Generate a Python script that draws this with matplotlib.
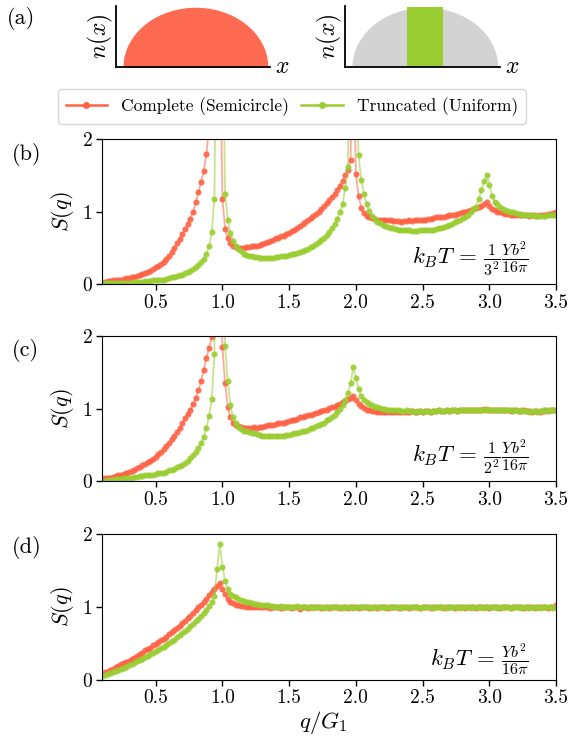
import numpy as np
import matplotlib
matplotlib.use("Agg")
import matplotlib.pyplot as plt
from matplotlib.lines import Line2D

plt.rcParams["font.family"] = "serif"
plt.rcParams["font.serif"] = ["cmr10", "DejaVu Serif"]
plt.rcParams["mathtext.fontset"] = "cm"
plt.rcParams["axes.formatter.use_mathtext"] = True

RED = "#ff6347"
GREEN = "#9acd32"

# sampling grid q/G1 (0.10 ... 3.50, step 0.02)
q = np.round(np.linspace(0.10, 3.50, 171), 2)

# (b) kT = (1/3^2) Yb^2/16pi
red_b = [
    0.03, 0.03, 0.04, 0.04, 0.05, 0.05, 0.06, 0.06, 0.07, 0.08,
    0.08, 0.09, 0.10, 0.11, 0.12, 0.14, 0.15, 0.17, 0.18, 0.20,
    0.23, 0.25, 0.28, 0.31, 0.35, 0.39, 0.44, 0.50, 0.56, 0.62,
    0.69, 0.76, 0.83, 0.90, 1.00, 1.13, 1.27, 1.41, 1.56, 1.79,
    2.20, 2.90, 4.20, 5.50, 3.50, 1.18, 0.76, 0.63, 0.57, 0.53,
    0.51, 0.50, 0.50, 0.50, 0.51, 0.51, 0.52, 0.52, 0.53, 0.54,
    0.55, 0.56, 0.58, 0.60, 0.61, 0.63, 0.64, 0.66, 0.67, 0.69,
    0.71, 0.73, 0.75, 0.77, 0.80, 0.83, 0.86, 0.89, 0.91, 0.94,
    0.97, 1.00, 1.04, 1.08, 1.12, 1.16, 1.20, 1.25, 1.30, 1.36,
    1.43, 1.50, 1.58, 1.72, 3.60, 1.52, 1.22, 1.05, 0.98, 0.94,
    0.92, 0.91, 0.90, 0.89, 0.89, 0.88, 0.89, 0.88, 0.88, 0.87,
    0.87, 0.87, 0.86, 0.87, 0.87, 0.88, 0.87, 0.88, 0.88, 0.89,
    0.89, 0.89, 0.90, 0.90, 0.91, 0.92, 0.92, 0.93, 0.93, 0.94,
    0.95, 0.95, 0.96, 0.97, 0.98, 0.99, 1.00, 1.01, 1.02, 1.03,
    1.05, 1.06, 1.08, 1.11, 1.13, 1.08, 1.04, 1.02, 1.00, 0.99,
    0.98, 0.97, 0.97, 0.96, 0.96, 0.95, 0.96, 0.95, 0.95, 0.95,
    0.94, 0.95, 0.95, 0.94, 0.95, 0.96, 0.96, 0.97, 0.97, 0.98,
    0.99,
]
green_b = [
    0.01, 0.01, 0.01, 0.01, 0.01, 0.01, 0.02, 0.02, 0.02, 0.02,
    0.02, 0.02, 0.03, 0.03, 0.03, 0.03, 0.04, 0.04, 0.04, 0.05,
    0.05, 0.05, 0.06, 0.06, 0.07, 0.08, 0.09, 0.10, 0.11, 0.12,
    0.13, 0.15, 0.16, 0.18, 0.20, 0.23, 0.26, 0.30, 0.35, 0.42,
    0.52, 0.72, 1.18, 5.00, 8.00, 4.00, 1.25, 0.88, 0.70, 0.60,
    0.53, 0.48, 0.45, 0.42, 0.40, 0.39, 0.38, 0.37, 0.37, 0.36,
    0.36, 0.36, 0.36, 0.36, 0.36, 0.37, 0.37, 0.38, 0.38, 0.39,
    0.40, 0.41, 0.42, 0.43, 0.44, 0.46, 0.47, 0.49, 0.51, 0.53,
    0.55, 0.58, 0.61, 0.64, 0.68, 0.72, 0.77, 0.83, 0.90, 0.99,
    1.10, 1.33, 1.62, 4.00, 6.50, 3.00, 1.78, 1.44, 1.25, 1.10,
    1.01, 0.94, 0.90, 0.86, 0.84, 0.82, 0.80, 0.79, 0.78, 0.77,
    0.76, 0.75, 0.75, 0.74, 0.74, 0.74, 0.73, 0.73, 0.73, 0.74,
    0.74, 0.74, 0.74, 0.75, 0.75, 0.76, 0.77, 0.78, 0.79, 0.80,
    0.82, 0.83, 0.85, 0.87, 0.89, 0.91, 0.93, 0.96, 0.99, 1.03,
    1.07, 1.17, 1.30, 1.42, 1.51, 1.37, 1.22, 1.14, 1.10, 1.06,
    1.04, 1.02, 1.01, 1.00, 0.99, 0.98, 0.97, 0.97, 0.96, 0.96,
    0.95, 0.95, 0.94, 0.94, 0.94, 0.94, 0.94, 0.95, 0.95, 0.96,
    0.96,
]

# (c) kT = (1/2^2) Yb^2/16pi
red_c = [
    0.04, 0.04, 0.05, 0.05, 0.06, 0.07, 0.08, 0.09, 0.10, 0.11,
    0.13, 0.14, 0.16, 0.18, 0.20, 0.22, 0.24, 0.26, 0.28, 0.31,
    0.34, 0.37, 0.40, 0.44, 0.48, 0.53, 0.58, 0.63, 0.68, 0.74,
    0.80, 0.87, 0.93, 0.98, 1.06, 1.15, 1.26, 1.38, 1.54, 1.70,
    1.84, 1.99, 4.00, 6.00, 3.50, 1.85, 1.35, 1.02, 0.88, 0.80,
    0.77, 0.76, 0.75, 0.74, 0.74, 0.74, 0.74, 0.75, 0.74, 0.75,
    0.75, 0.76, 0.77, 0.77, 0.78, 0.79, 0.80, 0.81, 0.81, 0.82,
    0.83, 0.84, 0.85, 0.86, 0.88, 0.89, 0.90, 0.91, 0.92, 0.93,
    0.94, 0.95, 0.97, 0.98, 0.99, 1.01, 1.02, 1.03, 1.05, 1.07,
    1.09, 1.11, 1.13, 1.15, 1.17, 1.12, 1.07, 1.04, 1.01, 0.99,
    0.98, 0.97, 0.97, 0.96, 0.96, 0.95, 0.96, 0.95, 0.96, 0.95,
    0.96, 0.95, 0.96, 0.96, 0.95, 0.96, 0.97, 0.96, 0.96, 0.97,
    0.96, 0.97, 0.97, 0.96, 0.97, 0.97, 0.98, 0.97, 0.97, 0.98,
    0.97, 0.98, 0.98, 0.97, 0.98, 0.98, 0.99, 0.98, 0.98, 0.99,
    0.99, 0.98, 0.99, 1.00, 0.99, 0.99, 0.98, 0.99, 0.99, 0.98,
    0.99, 0.98, 0.98, 0.97, 0.98, 0.98, 0.97, 0.97, 0.98, 0.97,
    0.97, 0.96, 0.97, 0.97, 0.96, 0.97, 0.98, 0.97, 0.98, 0.98,
    0.99,
]
green_c = [
    0.01, 0.01, 0.02, 0.02, 0.02, 0.03, 0.03, 0.03, 0.04, 0.04,
    0.05, 0.05, 0.06, 0.06, 0.07, 0.07, 0.08, 0.08, 0.09, 0.09,
    0.10, 0.11, 0.12, 0.12, 0.13, 0.15, 0.16, 0.17, 0.19, 0.21,
    0.23, 0.25, 0.28, 0.32, 0.36, 0.41, 0.46, 0.53, 0.61, 0.74,
    0.90, 1.14, 1.75, 5.00, 8.00, 5.00, 1.86, 1.38, 1.05, 0.88,
    0.80, 0.75, 0.72, 0.70, 0.69, 0.68, 0.67, 0.66, 0.65, 0.64,
    0.63, 0.62, 0.62, 0.62, 0.62, 0.62, 0.63, 0.63, 0.63, 0.64,
    0.64, 0.65, 0.66, 0.67, 0.68, 0.69, 0.70, 0.71, 0.73, 0.74,
    0.76, 0.77, 0.79, 0.81, 0.84, 0.86, 0.89, 0.92, 0.96, 1.00,
    1.05, 1.12, 1.22, 1.35, 1.57, 1.42, 1.27, 1.17, 1.12, 1.09,
    1.07, 1.05, 1.03, 1.02, 1.01, 1.00, 1.00, 0.99, 0.99, 0.98,
    0.98, 0.98, 0.97, 0.97, 0.98, 0.97, 0.97, 0.96, 0.97, 0.97,
    0.96, 0.97, 0.97, 0.96, 0.97, 0.97, 0.98, 0.97, 0.97, 0.98,
    0.97, 0.98, 0.98, 0.97, 0.98, 0.98, 0.98, 0.99, 0.98, 0.98,
    0.99, 0.99, 0.98, 0.99, 1.00, 0.99, 0.99, 0.98, 0.99, 0.98,
    0.98, 0.98, 0.99, 0.98, 0.97, 0.98, 0.97, 0.98, 0.97, 0.97,
    0.96, 0.97, 0.97, 0.96, 0.97, 0.98, 0.97, 0.98, 0.98, 0.99,
    0.99,
]

# (d) kT = Yb^2/16pi
red_d = [
    0.08, 0.10, 0.11, 0.13, 0.15, 0.17, 0.19, 0.21, 0.23, 0.24,
    0.26, 0.28, 0.30, 0.32, 0.35, 0.37, 0.40, 0.42, 0.44, 0.47,
    0.49, 0.52, 0.54, 0.56, 0.59, 0.62, 0.65, 0.68, 0.71, 0.74,
    0.77, 0.80, 0.84, 0.87, 0.91, 0.95, 0.99, 1.03, 1.07, 1.11,
    1.16, 1.20, 1.24, 1.28, 1.32, 1.24, 1.17, 1.11, 1.07, 1.05,
    1.03, 1.02, 1.01, 1.01, 1.00, 1.00, 0.99, 1.00, 0.99, 1.00,
    0.99, 1.00, 0.99, 0.98, 1.00, 0.99, 1.00, 0.98, 0.99, 1.00,
    0.99, 0.98, 1.00, 0.99, 0.97, 0.99, 1.00, 0.98, 0.99, 0.99,
    1.00, 0.99, 0.98, 1.00, 0.99, 0.98, 0.99, 1.00, 0.99, 0.98,
    0.99, 1.00, 0.98, 0.99, 1.00, 0.99, 0.98, 0.99, 1.00, 0.99,
    0.98, 0.99, 1.00, 0.98, 0.99, 0.99, 1.00, 0.98, 0.99, 1.00,
    0.99, 0.98, 0.99, 1.00, 0.99, 0.98, 0.99, 0.99, 1.00, 0.98,
    0.99, 1.00, 0.99, 0.98, 0.99, 1.00, 0.99, 0.99, 0.98, 0.99,
    1.00, 0.99, 0.98, 0.99, 0.99, 1.00, 0.98, 0.99, 1.00, 0.99,
    0.98, 0.99, 1.00, 0.99, 0.99, 0.98, 0.99, 1.00, 0.99, 0.98,
    0.99, 0.99, 1.00, 0.98, 0.99, 0.99, 1.00, 0.99, 0.98, 0.99,
    1.00, 0.99, 0.98, 0.99, 1.00, 0.99, 0.99, 0.98, 0.99, 1.00,
    1.02,
]
green_d = [
    0.05, 0.06, 0.08, 0.09, 0.10, 0.12, 0.13, 0.15, 0.16, 0.18,
    0.20, 0.21, 0.23, 0.25, 0.27, 0.29, 0.31, 0.33, 0.35, 0.37,
    0.39, 0.41, 0.43, 0.45, 0.47, 0.50, 0.53, 0.55, 0.58, 0.61,
    0.64, 0.67, 0.70, 0.73, 0.76, 0.80, 0.83, 0.87, 0.91, 0.95,
    1.01, 1.07, 1.15, 1.52, 1.86, 1.55, 1.35, 1.24, 1.18, 1.15,
    1.13, 1.11, 1.09, 1.08, 1.07, 1.06, 1.05, 1.04, 1.04, 1.03,
    1.03, 1.02, 1.02, 1.01, 1.01, 1.00, 1.00, 1.01, 1.00, 0.99,
    1.00, 0.99, 1.00, 1.01, 0.99, 1.00, 0.99, 1.00, 0.99, 0.98,
    0.99, 1.00, 0.99, 0.98, 0.99, 1.00, 0.99, 0.99, 1.00, 0.99,
    0.98, 0.99, 1.00, 0.99, 0.98, 0.99, 1.00, 0.99, 0.99, 1.00,
    0.99, 0.98, 0.99, 1.00, 0.99, 0.99, 0.98, 1.00, 0.99, 0.99,
    1.00, 0.99, 0.98, 0.99, 1.00, 0.99, 0.99, 1.00, 0.99, 0.98,
    0.99, 1.00, 0.99, 0.99, 0.98, 0.99, 1.00, 0.99, 0.99, 0.98,
    0.99, 0.99, 1.00, 0.99, 0.98, 0.99, 1.00, 0.99, 0.98, 0.99,
    0.99, 1.00, 0.99, 0.98, 0.99, 0.99, 1.00, 0.99, 0.98, 0.99,
    1.00, 0.99, 0.99, 0.98, 0.99, 1.00, 0.99, 0.98, 0.99, 0.99,
    0.98, 0.99, 1.00, 0.99, 0.98, 0.99, 0.99, 1.00, 0.99, 0.98,
    1.00,
]

panels = [
    ("(b)", red_b, green_b, r"$k_BT\,=\,\frac{1}{3^2}\frac{Yb^2}{16\pi}$", 0.17),
    ("(c)", red_c, green_c, r"$k_BT\,=\,\frac{1}{2^2}\frac{Yb^2}{16\pi}$", 0.165),
    ("(d)", red_d, green_d, r"$k_BT\,=\,\frac{Yb^2}{16\pi}$", 0.135),
]
panel_rects = [
    [0.1798, 0.6147, 0.7975, 0.1963],
    [0.1798, 0.3470, 0.7975, 0.1967],
    [0.1798, 0.0778, 0.7975, 0.1980],
]
label_y = [0.790, 0.525, 0.257]

fig = plt.figure(figsize=(5.69, 7.37), dpi=100)

# ---- (a) density profiles ----
xs = np.linspace(-1, 1, 400)
semi = np.sqrt(1 - xs ** 2)

axl = fig.add_axes([0.2039, 0.909, 0.2707, 0.0828])
axl.fill_between(xs, 0, semi, color=RED, alpha=0.95, lw=0)
axr = fig.add_axes([0.6063, 0.909, 0.2724, 0.0828])
axr.fill_between(xs, 0, semi, color="#d3d3d3", lw=0)
axr.fill_between([-0.25, 0.25], 0, 1, color=GREEN, lw=0)
for ax in (axl, axr):
    ax.set_xlim(-1.095, 1.03)
    ax.set_ylim(0, 1.02)
    ax.set_xticks([])
    ax.set_yticks([])
    ax.spines["top"].set_visible(False)
    ax.spines["right"].set_visible(False)
    ax.spines["left"].set_linewidth(1.3)
    ax.spines["bottom"].set_linewidth(1.3)
    ax.set_ylabel(r"$n(x)$", fontsize=17, labelpad=1)
    ax.text(1.03, 0.0, r"$x$", transform=ax.transAxes, fontsize=17,
            ha="left", va="center")

fig.text(0.012, 0.975, "(a)", fontsize=16, va="center", ha="left")

handles = [
    Line2D([], [], color=RED, marker="o", ms=4, lw=1.8, label="Complete (Semicircle)"),
    Line2D([], [], color=GREEN, marker="o", ms=4, lw=1.8, label="Truncated (Uniform)"),
]
fig.legend(handles=handles, loc="center", bbox_to_anchor=(0.513, 0.8555), ncol=2,
           fontsize=12.5, frameon=True, edgecolor="#cccccc", handlelength=2.4,
           columnspacing=0.7, handletextpad=0.8, borderpad=0.45, borderaxespad=0)

# ---- (b)-(d) structure factors ----
for (lab, rd, gr, txt, ty), rect, ly in zip(panels, panel_rects, label_y):
    ax = fig.add_axes(rect)
    ax.plot(q, rd, color=RED, lw=1.3, alpha=0.55)
    ax.plot(q, rd, ls="none", marker="o", ms=4.4, color=RED, alpha=0.9, mew=0)
    ax.plot(q, gr, color=GREEN, lw=1.3, alpha=0.55)
    ax.plot(q, gr, ls="none", marker="o", ms=4.4, color=GREEN, alpha=0.9, mew=0)
    ax.set_xlim(0.1, 3.5)
    ax.set_ylim(0, 2)
    ax.set_xticks([0.5, 1.0, 1.5, 2.0, 2.5, 3.0, 3.5])
    ax.set_xticklabels(["0.5", "1.0", "1.5", "2.0", "2.5", "3.0", "3.5"])
    ax.set_yticks([0, 1, 2])
    ax.tick_params(direction="out", length=4, width=1, labelsize=14, pad=3)
    ax.set_ylabel(r"$S(q)$", fontsize=16, labelpad=4)
    ax.text(0.94, ty, txt, transform=ax.transAxes, fontsize=16.5,
            ha="right", va="center")
    fig.text(0.02, ly, lab, fontsize=16, va="center", ha="left")
    last = ax

fig.text(0.5676, 0.020, r"$q/G_1$", fontsize=16.5, ha="center", va="center")

fig.savefig("out.png", dpi=100)
